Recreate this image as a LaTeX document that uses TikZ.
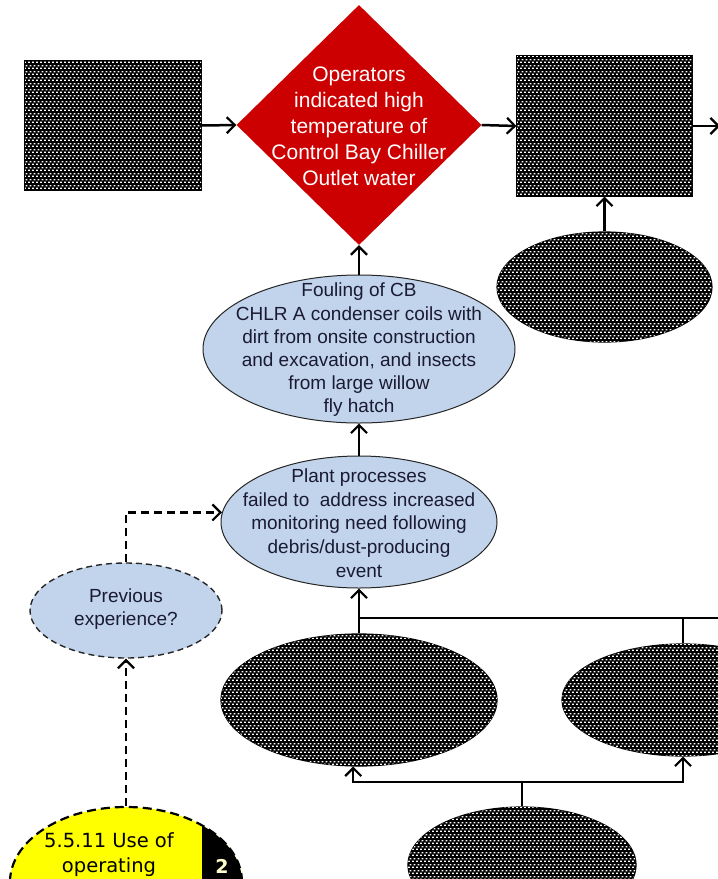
\documentclass[tikz,border=0pt]{standalone}
\usepackage{fontspec}
\setmainfont{Liberation Sans}
\newfontfamily\verd{DejaVu Sans}
\usetikzlibrary{shapes.geometric,arrows.meta,patterns}
\pgfdeclarepatternformonly{redots}{\pgfpointorigin}{\pgfqpoint{4pt}{6pt}}{\pgfqpoint{4pt}{6pt}}{%
  \pgfpathrectangle{\pgfqpoint{0pt}{0pt}}{\pgfqpoint{2.2pt}{1.5pt}}%
  \pgfpathrectangle{\pgfqpoint{2pt}{3pt}}{\pgfqpoint{2.2pt}{1.5pt}}%
  \pgfusepath{fill}}
\definecolor{cbred}{HTML}{CC0000}
\definecolor{cbblue}{HTML}{C2D4EB}
\definecolor{cbtext}{HTML}{1A1A33}
\definecolor{cbyel}{HTML}{FFFF00}
\tikzset{
  redact/.style={draw=black, line width=1.2pt, fill=black, postaction={pattern=redots, pattern color=white}},
  redrect/.style={redact, rectangle, inner sep=0},
  redell/.style={redact, ellipse, inner sep=0},
  blueell/.style={ellipse, draw=black!85, line width=1pt, fill=cbblue, inner sep=0},
  conn/.style={line width=2.5pt, -{Straight Barb[length=8pt,width=16pt,line width=2.2pt]}},
  plain/.style={line width=2.5pt},
  dconn/.style={conn, dash pattern=on 8pt off 5pt},
  lbl/.style={align=center, text=cbtext, inner sep=0},
}
\begin{document}
\begin{tikzpicture}[x=1pt,y=-1pt]
\useasboundingbox (0,0) rectangle (718,879);
\clip (0,0) rectangle (718,879);

% top row
\node[redrect, minimum width=176, minimum height=129] (r1) at (113,125.5) {};
\node[diamond, fill=cbred, minimum width=245, minimum height=240, inner sep=0] (op) at (359,125) {};
\node[align=center, text=white, inner sep=0, font=\fontsize{21}{26}\selectfont] (opT) at (359,126)
  {Operators\\indicated high\\temperature of\\Control Bay Chiller\\Outlet water};
\node[redrect, minimum width=175, minimum height=140] (r2) at (604.5,126) {};
\coordinate (edgeR) at (720,126);
\node[redell, minimum width=215, minimum height=110] (e2) at (604.5,287) {};

% fouling
\node[blueell, minimum width=312, minimum height=148] (foul) at (359,349) {};
\node[lbl, font=\fontsize{19}{23.2}\selectfont] (foulT) at (359,350)
  {Fouling of CB\\CHLR A condenser coils with\\dirt from onsite construction\\and excavation, and insects\\from large willow\\fly hatch};

% plant processes
\node[blueell, minimum width=276, minimum height=132] (plant) at (359,522) {};
\node[lbl, font=\fontsize{19}{23.8}\selectfont] (plantT) at (359,523)
  {Plant processes\\failed to\ \ address increased\\monitoring need following\\debris/dust-producing\\event};

% previous experience
\node[blueell, dash pattern=on 6pt off 4pt, line width=1.4pt, minimum width=192, minimum height=95] (prev) at (126,610.5) {};
\node[lbl, font=\fontsize{19}{23}\selectfont] (prevT) at (126,609) {Previous\\experience?};

% bottom redacted ellipses
\node[redell, minimum width=276, minimum height=132] (b1) at (359,700) {};
\node[redell, minimum width=242, minimum height=112] (b2) at (683,700) {};
\node[redell, minimum width=228, minimum height=116] (b3) at (522,865) {};

% yellow ellipse
\node[ellipse, fill=cbyel, minimum width=232, minimum height=150, inner sep=0] (yel) at (126,882) {};
\begin{scope}
  \clip (126,882) ellipse [x radius=116, y radius=75];
  \fill[black] (202,800) rectangle (260,900);
\end{scope}
\node[ellipse, draw=black, line width=2.2pt, dash pattern=on 9pt off 5pt, minimum width=232, minimum height=150, inner sep=0] (yelB) at (126,882) {};
\node[lbl, text=black, font=\verd\fontsize{19.5}{25}\selectfont] (yelT) at (109,855) {5.5.11 Use of\\operating};
\node[text=yellow!20, inner sep=0, font=\verd\bfseries\fontsize{19}{20}\selectfont] (num) at (222,866) {2};

% connectors
\draw[conn] (r1.east) -- (op.west);
\draw[conn] (op.east) -- (r2.west);
\draw[conn] (r2.east) -- (edgeR);
\draw[conn] (e2.north) -- (r2.south);
\draw[conn] (foul.north) -- (op.south);
\draw[conn] (plant.north) -- (foul.south);
\draw[dconn] (prev.north) |- (plant.176);
\draw[dconn] (yelB.north) -- (prev.south);

\coordinate (busT) at (720,618);
\coordinate (busB) at (522,782);
\draw[conn] (b1.north) -- (plant.south);
\draw[plain] (busT) -- (plant.south |- busT);
\draw[plain] (b2.north |- busT) -- (b2.north);
\draw[plain] (b3.north) -- (busB);
\draw[conn] (busB) -| (b1.265);
\draw[conn] (busB) -| (b2.south);
\end{tikzpicture}
\end{document}
